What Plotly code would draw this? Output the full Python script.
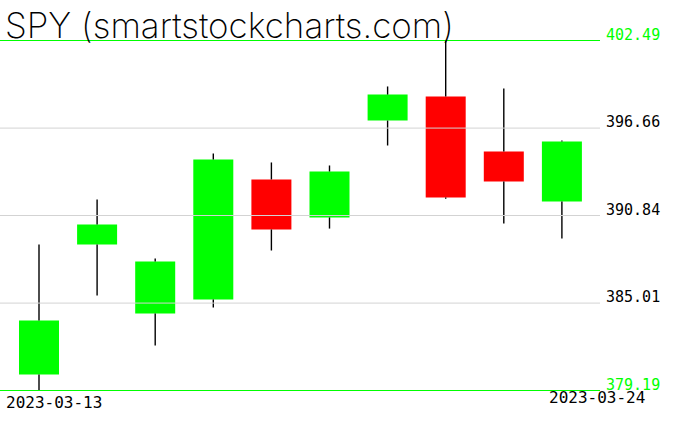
import plotly.graph_objects as go

# ---- data ----
dates = ["2023-03-13", "2023-03-14", "2023-03-15", "2023-03-16", "2023-03-17",
         "2023-03-20", "2023-03-21", "2023-03-22", "2023-03-23", "2023-03-24"]
opens = [380.25, 388.91, 384.31, 385.25, 393.24, 390.71, 397.16, 398.76, 395.10, 391.77]
highs = [388.91, 391.90, 387.98, 394.97, 394.37, 394.17, 399.43, 402.49, 399.29, 395.83]
lows = [379.19, 385.51, 382.18, 384.71, 388.51, 389.97, 395.50, 391.95, 390.31, 389.31]
closes = [383.85, 390.24, 387.78, 394.57, 389.91, 393.77, 398.89, 392.04, 393.10, 395.77]
tick_vals = [379.19, 385.01, 390.84, 396.66, 402.49]
tick_labels = ["379.19", "385.01", "390.84", "396.66", "402.49"]
title_text = "SPY (smartstockcharts.com)"

GREEN = "#00ff00"
RED = "#ff0000"
GRID = "#d3d3d3"

# ---- layout constants (pixels) ----
W, H = 676, 431
plot_left, plot_right = 0, 600
plot_top, plot_bottom = 30, 400
step_px = 58.1
first_px = 39
top_line_px, bottom_line_px = 40.5, 390.5

idx = list(range(len(dates)))
x_range = [(plot_left - first_px) / step_px, (plot_right - first_px) / step_px]

vmax, vmin = max(highs), min(lows)
px_per_unit = (bottom_line_px - top_line_px) / (vmax - vmin)
y_range = [vmin - (plot_bottom - bottom_line_px) / px_per_unit,
           vmax + (top_line_px - plot_top) / px_per_unit]

fig = go.Figure()

# bodies
fig.add_trace(go.Bar(
    x=idx,
    y=[abs(c - o) for o, c in zip(opens, closes)],
    base=[min(o, c) for o, c in zip(opens, closes)],
    width=40 / step_px,
    marker=dict(color=[GREEN if c >= o else RED for o, c in zip(opens, closes)],
                line=dict(width=0)),
    hoverinfo="skip", showlegend=False))

# wicks (upper and lower parts, outside the bodies)
wx, wy = [], []
for i, o, hi, lo, c in zip(idx, opens, highs, lows, closes):
    top, bot = max(o, c), min(o, c)
    wx += [i, i, None, i, i, None]
    wy += [hi, top, None, bot, lo, None]
fig.add_trace(go.Scatter(x=wx, y=wy, mode="lines",
                         line=dict(color="black", width=1.4),
                         hoverinfo="skip", showlegend=False))

# horizontal reference lines
shapes = []
for v in tick_vals:
    col = GREEN if v in (vmin, vmax) else GRID
    shapes.append(dict(type="line", xref="paper", yref="y", x0=0, x1=1, y0=v, y1=v,
                       line=dict(color=col, width=1), layer="above"))

ticktext = []
for v, t in zip(tick_vals, tick_labels):
    if v in (vmin, vmax):
        ticktext.append(f'<span style="color:{GREEN}">{t}</span>')
    else:
        ticktext.append(t)

ph = plot_bottom - plot_top
pw = plot_right - plot_left
annotations = [
    dict(text=title_text, xref="paper", yref="paper",
         x=(3 - plot_left) / pw, y=(plot_bottom - 25) / ph,
         xanchor="left", yanchor="middle", showarrow=False,
         font=dict(family="Inter", size=35, color="black", weight=200)),
    dict(text=dates[0], xref="paper", yref="paper",
         x=(4 - plot_left) / pw, y=(plot_bottom - 402) / ph,
         xanchor="left", yanchor="middle", showarrow=False,
         font=dict(family="DejaVu Sans Mono", size=16, color="black")),
    dict(text=dates[-1], xref="paper", yref="paper",
         x=(647 - plot_left) / pw, y=(plot_bottom - 397) / ph,
         xanchor="right", yanchor="middle", showarrow=False,
         font=dict(family="DejaVu Sans Mono", size=16, color="black")),
]

fig.update_layout(
    width=W, height=H,
    margin=dict(l=plot_left, r=W - plot_right, t=plot_top, b=H - plot_bottom, pad=0, autoexpand=False),
    paper_bgcolor="white", plot_bgcolor="white",
    showlegend=False, hovermode=False,
    shapes=shapes, annotations=annotations,
    xaxis=dict(range=x_range, showgrid=False, zeroline=False, showline=False,
               showticklabels=False, ticks="", fixedrange=True),
    yaxis=dict(range=y_range, side="right", showgrid=False, zeroline=False,
               showline=False, ticks="", tickvals=tick_vals, ticktext=ticktext,
               tickfont=dict(family="DejaVu Sans Mono", size=15, color="black"),
               ticklabelstandoff=5, ticklabelshift=-6, fixedrange=True),
)

fig.write_html("out.html", config={"displayModeBar": False},
               post_script="document.body.style.margin='0';document.body.style.padding='0';")
